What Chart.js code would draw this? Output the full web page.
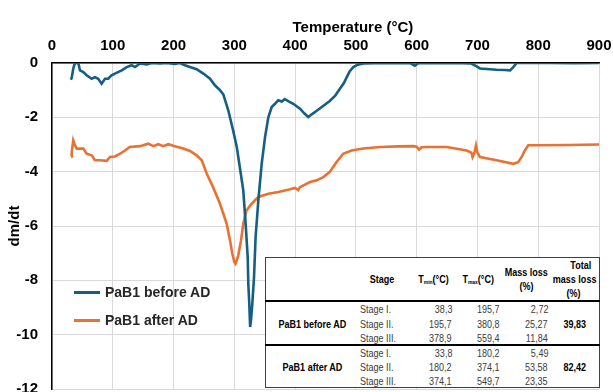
<!DOCTYPE html>
<html><head><meta charset="utf-8">
<script src="https://cdn.jsdelivr.net/npm/chart.js@4.4.1/dist/chart.umd.min.js"></script>
<style>
html,body{margin:0;padding:0;background:#fff;}
#wrap{position:relative;width:613px;height:392px;overflow:hidden;background:#fff;}
#c{position:absolute;left:0;top:0;}
.ov{position:absolute;white-space:nowrap;}
.xt{font-family:"Liberation Sans",Arial,sans-serif;font-weight:bold;font-size:15px;color:#000;line-height:18px;}
.lg{font-family:"Liberation Sans",Arial,sans-serif;font-weight:bold;font-size:14px;color:#262626;line-height:16px;}
.ln{position:absolute;height:3px;}
#tbl{position:absolute;background:#fff;border:1px solid #404040;box-sizing:border-box;}
.hr{position:absolute;background:#000;}
.t{position:absolute;white-space:nowrap;line-height:12px;font-family:"Liberation Sans",Arial,sans-serif;font-size:11px;color:#3b3b3b;}
.b{font-weight:bold;color:#000;}
.t sub{font-size:6px;vertical-align:-1px;line-height:0;}
</style>
</head><body>
<div id="wrap"><canvas id="c" width="613" height="392"></canvas></div>
<script>
// ---- data ----
const seriesNames = ["PaB1 before AD", "PaB1 after AD"];
const tempBefore = [31,32.4,35,37.8,43.3,46,51.5,57,65.3,70.7,76,81.7,87.2,92.6,98,103.6,114.7,123,131,136.6,144.8,156,164,177.7,188.7,202,210.6,218.8,227,238,249,260,268,276.4,282,290,298,304,309,314.7,318.6,322,323,324.6,326,327.5,329.6,332.4,335,339.5,345,350.5,356,361.5,367,372.3,378,383,390,397,408,415,421.7,428,435.5,445,457,466,474,480,485,490,495.7,503,512,530,560,590,597,603,630,660,690,698.7,704,715,731.6,745,753.6,759,764.5,780,820,860,900];
const dmdtBefore = [-0.62,-0.55,-0.2,0,0,-0.27,-0.33,-0.45,-0.58,-0.52,-0.58,-0.76,-0.58,-0.58,-0.45,-0.39,-0.27,-0.15,-0.08,-0.15,-0.02,-0.05,0,-0.02,0,-0.03,0,-0.08,-0.15,-0.23,-0.39,-0.58,-0.82,-1.0,-1.16,-1.74,-2.48,-3.09,-3.83,-4.69,-5.92,-7.14,-8.13,-8.86,-9.72,-9.45,-8.86,-7.88,-6.41,-5.06,-3.71,-2.73,-1.99,-1.62,-1.5,-1.37,-1.42,-1.33,-1.42,-1.5,-1.68,-1.85,-1.99,-1.88,-1.76,-1.6,-1.4,-1.2,-0.94,-0.75,-0.52,-0.3,-0.15,-0.06,-0.02,-0.01,0,-0.01,-0.1,0,-0.01,0,-0.02,-0.12,-0.2,-0.22,-0.25,-0.26,-0.27,-0.15,0,0,0,-0.01,0];
const tempAfter = [31.3,32.4,35,37.8,40.6,51.5,57,65.3,70.7,79,90,95.4,103.6,112,120,128,144.8,158.4,166.7,175,183,191.4,202,216,227,238,246.3,254.5,265,276.4,287.4,292.9,296.7,300,302,306.5,311,314.7,320,328.5,339.5,356,372.3,383,391.6,400,405,408,424.5,435.5,446.4,457,468,479,493,512,540,570,594.5,600,604,608,616.5,649.5,682,690,692,695,697.6,700,704,731.6,759,767,773,778,783.6,800,850,900];
const dmdtAfter = [-3.44,-3.3,-2.85,-3.03,-3.15,-3.15,-3.34,-3.4,-3.58,-3.58,-3.6,-3.46,-3.44,-3.34,-3.22,-3.09,-3.06,-2.97,-3.06,-2.99,-3.06,-2.99,-3.06,-3.15,-3.24,-3.4,-3.58,-4.07,-4.57,-5.18,-5.92,-6.53,-7.02,-7.33,-7.39,-7.08,-6.53,-5.92,-5.43,-5.18,-4.93,-4.81,-4.75,-4.69,-4.65,-4.6,-4.68,-4.57,-4.38,-4.32,-4.2,-4.01,-3.65,-3.34,-3.22,-3.15,-3.09,-3.07,-3.06,-3.08,-3.19,-3.1,-3.09,-3.09,-3.22,-3.3,-3.46,-3.3,-3.03,-3.3,-3.46,-3.58,-3.71,-3.65,-3.45,-3.22,-3.03,-3.03,-3.02,-3.0];
const xTitle = "Temperature (°C)";
const yTitle = "dm/dt";
// table data
const tableSamples = ["PaB1 before AD", "PaB1 after AD"];
const tableStages = ["Stage I.", "Stage II.", "Stage III."];
const tableTmin = [["38,3","195,7","378,9"],["33,8","180,2","374,1"]];
const tableTmax = [["195,7","380,8","559,4"],["180,2","374,1","549,7"]];
const tableMassLoss = [["2,72","25,27","11,84"],["5,49","53,58","23,35"]];
const tableTotal = ["39,83","82,42"];

// ---- chart ----
const colors = ["#156082", "#E97132"];
const tickFont = {family:"'Liberation Sans', Arial, sans-serif", size:15, weight:'bold'};
const chart = new Chart(document.getElementById('c'), {
  type:'line',
  data:{datasets:[
    {label:seriesNames[0], data:tempBefore.map((t,i)=>({x:t,y:dmdtBefore[i]})), borderColor:colors[0], borderWidth:2.6, pointRadius:0, fill:false, tension:0},
    {label:seriesNames[1], data:tempAfter.map((t,i)=>({x:t,y:dmdtAfter[i]})), borderColor:colors[1], borderWidth:2.6, pointRadius:0, fill:false, tension:0}
  ]},
  options:{
    responsive:false, animation:false, devicePixelRatio:1,
    layout:{padding:{left:0,right:14,top:0,bottom:3}},
    plugins:{legend:{display:false}, tooltip:{enabled:false}},
    scales:{
      x:{type:'linear', position:'top', min:0, max:900,
         ticks:{stepSize:100, font:tickFont, color:'#000', padding:8, maxRotation:0, autoSkip:false},
         grid:{color:'#d9d9d9', drawTicks:false}, border:{color:'#000', width:1.5},
         afterFit(s){s.height=63; s.paddingLeft=0; s.paddingRight=0;}},
      y:{min:-12, max:0,
         ticks:{stepSize:2, font:tickFont, color:'#000', padding:14},
         grid:{color:'#d9d9d9', drawTicks:false}, border:{color:'#000', width:1.5},
         title:{display:true, text:yTitle, font:tickFont, color:'#000', padding:{top:6,bottom:0}},
         afterFit(s){s.width=52; s.paddingTop=0; s.paddingBottom=0;}}
    }
  }
});

// ---- overlays ----
const wrap = document.getElementById('wrap');
function place(html, cls, x, y, align, sx){
  const d = document.createElement('div');
  d.className = 'ov ' + cls; d.innerHTML = html;
  wrap.appendChild(d);
  const w = d.offsetWidth, h = d.offsetHeight;
  let left = align==='left' ? x : align==='right' ? x - w : x - w/2;
  d.style.left = left + 'px'; d.style.top = (y - h/2) + 'px';
  if (sx) { d.style.transformOrigin = align==='left' ? 'left center' : align==='right' ? 'right center' : 'center center'; d.style.transform = 'scaleX(' + sx + ')'; }
  return d;
}
place(xTitle, 'xt', 353, 27, 'center');
// legend
[292, 320].forEach((y,i)=>{
  const l = document.createElement('div'); l.className='ln';
  l.style.left='74px'; l.style.width='26px'; l.style.top=(y-1.5)+'px'; l.style.background=colors[i];
  wrap.appendChild(l);
  place(seriesNames[i], 'lg', 105, y, 'left');
});
// table
const NX = 0.82;
const tb = document.createElement('div'); tb.id='tbl';
tb.style.left='265px'; tb.style.top='257px'; tb.style.width='335px'; tb.style.height='131px';
wrap.appendChild(tb);
[300, 344].forEach(y=>{ const h=document.createElement('div'); h.className='hr';
  h.style.left='265px'; h.style.width='335px'; h.style.top=y+'px'; h.style.height='2px'; wrap.appendChild(h);});
place('Stage','t b',382,279,'center',NX);
place('T<sub>min</sub>(°C)','t b',433,279,'center',NX);
place('T<sub>max</sub>(°C)','t b',478,279,'center',NX);
place('Mass loss','t b',526,272,'center',NX);
place('(%)','t b',526,286,'center',NX);
place('Total','t b',580,265,'center',NX);
place('mass loss','t b',574,279,'center',NX);
place('(%)','t b',573,293,'center',NX);
const rowY = [[309,323.5,338],[353,367,381]];
tableSamples.forEach((s,g)=>{
  place(s,'t b',312,rowY[g][1],'center',NX);
  place(tableTotal[g],'t b',575,rowY[g][1],'center',NX);
  tableStages.forEach((st,r)=>{
    const y = rowY[g][r];
    place(st,'t',360,y,'left',NX);
    place(tableTmin[g][r],'t',452,y,'right',NX);
    place(tableTmax[g][r],'t',500,y,'right',NX);
    place(tableMassLoss[g][r],'t',548,y,'right',NX);
  });
});
</script>
</body></html>
